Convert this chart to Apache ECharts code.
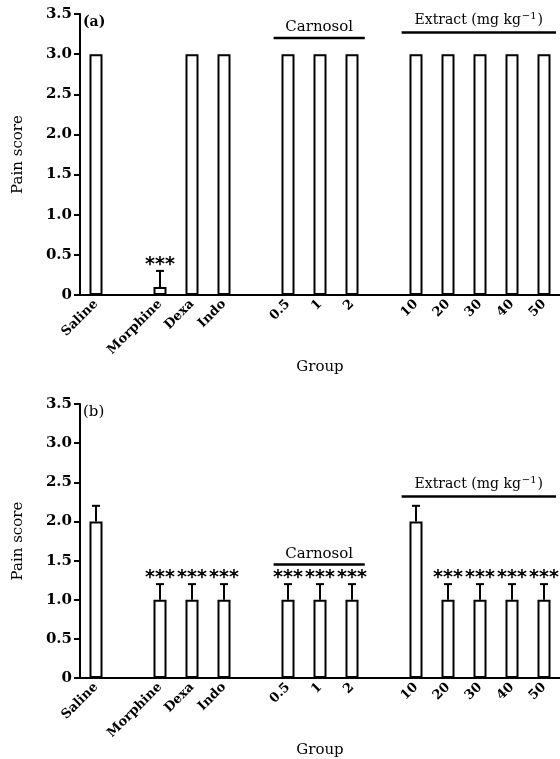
<!DOCTYPE html>
<html>
<head>
<meta charset="utf-8">
<script src="https://cdn.jsdelivr.net/npm/echarts@6/dist/echarts.min.js"></script>
<style>html,body{margin:0;padding:0;background:#fff}#c{width:560px;height:759px}</style>
</head>
<body>
<div id="c"></div>
<script>
// categories (blank entries are spacer slots between groups)
var categories = ['Saline', ' ', 'Morphine', 'Dexa', 'Indo', '  ', '0.5', '1', '2', '   ', '10', '20', '30', '40', '50'];
// panel (a)
var scoresA = [3.0, null, 0.1, 3.0, 3.0, null, 3.0, 3.0, 3.0, null, 3.0, 3.0, 3.0, 3.0, 3.0];
var errA    = [0,   null, 0.2, 0,   0,   null, 0,   0,   0,   null, 0,   0,   0,   0,   0];
var sigA    = ['',  '',   '***','', '',  '',   '',  '',  '',  '',   '',  '',  '',  '',  ''];
// panel (b)
var scoresB = [2.0, null, 1.0, 1.0, 1.0, null, 1.0, 1.0, 1.0, null, 2.0, 1.0, 1.0, 1.0, 1.0];
var errB    = [0.2, null, 0.2, 0.2, 0.2, null, 0.2, 0.2, 0.2, null, 0.2, 0.2, 0.2, 0.2, 0.2];
var sigB    = ['',  '',   '***','***','***','', '***','***','***','', '',  '***','***','***','***'];
// group brackets: [first category index, last category index, y level, label]
var groupsA = [[6, 8, 3.2, 'Carnosol'], [10, 14, 3.27, 'Extract']];
var groupsB = [[6, 8, 1.45, 'Carnosol'], [10, 14, 2.32, 'Extract']];

var SERIF = 'DejaVu Serif';

function barData(vals) { return vals.map(function (v) { return v == null ? '-' : v; }); }
function errData(vals, errs, sigs) {
  var out = [];
  vals.forEach(function (v, i) { if (v != null) out.push([i, v, errs[i], sigs[i]]); });
  return out;
}
function errRender(params, api) {
  var i = api.value(0), v = api.value(1), e = api.value(2);
  var sig = api.value(3);
  var base = api.coord([i, v]);
  var top = api.coord([i, v + e]);
  var children = [];
  if (e > 0) {
    children.push({ type: 'line', shape: { x1: base[0], y1: base[1], x2: top[0], y2: top[1] }, style: { stroke: '#000', lineWidth: 2 } });
    children.push({ type: 'line', shape: { x1: top[0] - 4, y1: top[1], x2: top[0] + 4, y2: top[1] }, style: { stroke: '#000', lineWidth: 2 } });
  }
  if (sig) {
    children.push({ type: 'text', x: top[0], y: top[1] - 6, style: { text: sig, fill: '#000', font: 'bold 19px "DejaVu Sans"', align: 'center', verticalAlign: 'middle' } });
  }
  return { type: 'group', children: children };
}
function groupRender(params, api) {
  var a = api.value(0), b = api.value(1), y = api.value(2);
  var p1 = api.coord([a, y]), p2 = api.coord([b, y]);
  var band = api.size([1, 0])[0];
  var x1 = p1[0] - band * 0.45, x2 = Math.min(p2[0] + band * 0.4, 556);
  var name = api.value(3);
  var children = [{ type: 'line', shape: { x1: x1, y1: p1[1], x2: x2, y2: p1[1] }, style: { stroke: '#000', lineWidth: 2.5 } }];
  var textStyle;
  if (name === 'Extract') {
    textStyle = { text: 'Extract (mg kg{sup|\u22121})', rich: { sup: { fontSize: 10, fontFamily: SERIF, padding: [0, 1, 8, 1] } }, fill: '#000', fontFamily: SERIF, fontSize: 14, align: 'center', verticalAlign: 'bottom' };
  } else {
    textStyle = { text: name, fill: '#000', fontFamily: SERIF, fontSize: 15, align: 'center', verticalAlign: 'bottom' };
  }
  children.push({ type: 'text', x: (x1 + x2) / 2, y: p1[1] - 3, style: textStyle });
  return { type: 'group', children: children };
}

function xAxis(idx) {
  return {
    type: 'category', gridIndex: idx, data: categories,
    axisLine: { lineStyle: { color: '#000', width: 2 } },
    axisTick: { show: false },
    axisLabel: { interval: 0, rotate: 45, margin: 7, color: '#000', fontFamily: SERIF, fontWeight: 'bold', fontSize: 13 },
    name: 'Group', nameLocation: 'middle', nameGap: 54,
    nameTextStyle: { color: '#000', fontFamily: SERIF, fontSize: 15 }
  };
}
function yAxis(idx) {
  return {
    type: 'value', gridIndex: idx, min: 0, max: 3.5, interval: 0.5,
    axisLine: { show: true, lineStyle: { color: '#000', width: 2 } },
    axisTick: { show: true, length: 6, lineStyle: { color: '#000', width: 2 } },
    splitLine: { show: false },
    axisLabel: { margin: 8, color: '#000', fontFamily: SERIF, fontWeight: 'bold', fontSize: 15,
      formatter: function (v) { return v === 0 ? '0' : v.toFixed(1); } },
    name: 'Pain score', nameLocation: 'middle', nameGap: 54,
    nameTextStyle: { color: '#000', fontFamily: SERIF, fontSize: 15 }
  };
}
function barSeries(idx, vals) {
  return {
    type: 'bar', xAxisIndex: idx, yAxisIndex: idx, data: barData(vals), barWidth: 13,
    itemStyle: { color: '#fff', borderColor: '#000', borderWidth: 2 }, silent: true
  };
}

var chart = echarts.init(document.getElementById('c'), null, { renderer: 'canvas' });
chart.setOption({
  animation: false,
  backgroundColor: '#fff',
  title: [
    { text: '(a)', left: 83, top: 15, textStyle: { fontFamily: SERIF, fontWeight: 'bold', fontSize: 14, color: '#000' }, padding: 0 },
    { text: '(b)', left: 83, top: 405, textStyle: { fontFamily: SERIF, fontWeight: 'normal', fontSize: 15, color: '#000' }, padding: 0 }
  ],
  grid: [
    { left: 80, top: 14, width: 480, height: 281 },
    { left: 80, top: 404, width: 480, height: 281 }
  ],
  xAxis: [xAxis(0), xAxis(1)],
  yAxis: [yAxis(0), yAxis(1)],
  series: [
    barSeries(0, scoresA),
    barSeries(1, scoresB),
    { type: 'custom', xAxisIndex: 0, yAxisIndex: 0, data: errData(scoresA, errA, sigA), renderItem: errRender, silent: true, z: 5 },
    { type: 'custom', xAxisIndex: 1, yAxisIndex: 1, data: errData(scoresB, errB, sigB), renderItem: errRender, silent: true, z: 5 },
    { type: 'custom', xAxisIndex: 0, yAxisIndex: 0, data: groupsA, renderItem: groupRender, silent: true, clip: false },
    { type: 'custom', xAxisIndex: 1, yAxisIndex: 1, data: groupsB, renderItem: groupRender, silent: true, clip: false }
  ]
});
</script>
</body>
</html>
